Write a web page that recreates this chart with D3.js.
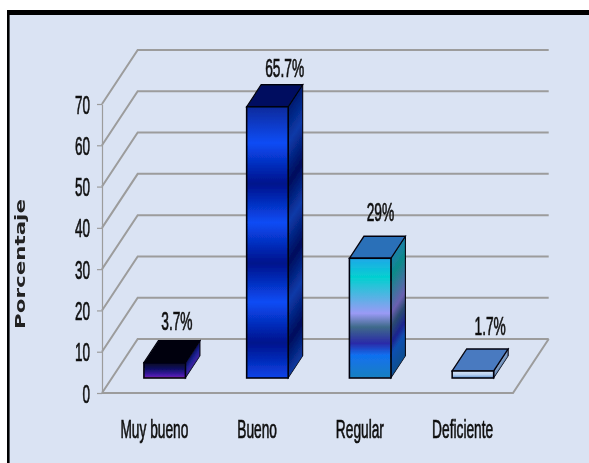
<!DOCTYPE html>
<html lang="es">
<head>
  <meta charset="UTF-8">
  <title>Porcentaje</title>
  <script src="https://d3js.org/d3.v7.min.js"></script>
  <style>
    html, body { margin: 0; padding: 0; background: #fff; }
    svg { display: block; }
  </style>
</head>

<body>
  <div id="chart"></div>
  <script>
    const categories = ["Muy bueno", "Bueno", "Regular", "Deficiente"];
    const values = [3.7, 65.7, 29, 1.7];
    const valueLabels = ["3.7%", "65.7%", "29%", "1.7%"];
    const yTicks = [0, 10, 20, 30, 40, 50, 60, 70];
    const yTitle = "Porcentaje";

    // gradient stops per bar: [offset, front colour, side colour]
    const barStops = [
      [[0, "#08081e", "#0a0a50"], [0.45, "#12106a", "#1a2090"], [0.85, "#4a1cb0", "#3c20a0"], [1, "#8a1a9c", "#202a90"]],
      [[0, "#0a2a9c", "#001a70"], [0.133, "#0a4cf5", "#0a3aa8"], [0.284, "#00128c", "#000c5c"], [0.427, "#0a4cf5", "#0a3aa8"],
       [0.577, "#00128c", "#000c5c"], [0.72, "#0a4cf5", "#0a3aa8"], [0.87, "#00128c", "#000c5c"], [1, "#0a44e8", "#0a3aa0"]],
      [[0, "#1fa8e8", "#1a7fa8"], [0.16, "#04d0d0", "#0d8a8a"], [0.46, "#9a9af5", "#6a60b0"], [0.575, "#3f6a8a", "#2a4a70"],
       [0.71, "#2a2aa8", "#1c2490"], [0.81, "#1070f0", "#0f50b0"], [1, "#1a80c0", "#0f4f90"]],
      [[0, "#d8e6f8", "#8aa4c8"], [0.55, "#b8d0f0", "#7a98c0"], [1, "#5a90d0", "#5a80b0"]]
    ];
    const topColors = ["#04040e", "#000c60", "#2b70b8", "#4a7ac0"];

    const width = 589, height = 463;
    const plot = { left: 102, right: 513, top: 104, bottom: 393 };
    const wall = { dx: 35.7, dy: -54 };   // floor depth
    const bar = { inX: 11.3, inY: -15, dx: 14.5, dy: -22, w: 41.5 };
    const labelNudge = [[5, 11], [10, 8], [3, 15], [10, 14]];

    const svg = d3.select("#chart").append("svg")
      .attr("width", width)
      .attr("height", height)
      .style("font-family", "'Liberation Sans', sans-serif");

    const defs = svg.append("defs");
    defs.append("filter").attr("id", "soft")
      .append("feGaussianBlur").attr("stdDeviation", 0.4);

    barStops.forEach((stops, i) => {
      ["front", "side"].forEach((face, f) => {
        const g = defs.append("linearGradient")
          .attr("id", `${face}${i}`)
          .attr("x1", 0).attr("y1", 0).attr("x2", 0).attr("y2", 1);
        stops.forEach(s => {
          g.append("stop").attr("offset", s[0]).attr("stop-color", s[f + 1]);
        });
      });
    });

    const root = svg.append("g").attr("filter", "url(#soft)");

    // page background and the heavy black frame
    root.append("rect").attr("x", 8).attr("y", 12).attr("width", width).attr("height", height)
      .attr("fill", "#dae3f3");
    root.append("rect").attr("x", 7).attr("y", 10).attr("width", width).attr("height", 5).attr("fill", "#000");
    root.append("rect").attr("x", 7).attr("y", 10).attr("width", 2.6).attr("height", height).attr("fill", "#000");

    const xScale = d3.scaleBand().domain(categories).range([plot.left, plot.right]);
    const yScale = d3.scaleLinear().domain([0, 70]).range([plot.bottom, plot.top]);

    // walls: diagonal + back gridline for every tick
    const backRight = plot.right + wall.dx;
    root.selectAll(".grid").data(yTicks).enter().append("path")
      .attr("class", "grid")
      .attr("fill", "none")
      .attr("stroke", "#9c9c9c")
      .attr("stroke-width", 2)
      .attr("d", d => {
        const y = yScale(d);
        return `M${plot.left},${y}L${plot.left + wall.dx},${y + wall.dy}L${backRight},${y + wall.dy}`;
      });

    // floor right edge and front edge
    root.append("path")
      .attr("fill", "none")
      .attr("stroke", "#9c9c9c")
      .attr("stroke-width", 2)
      .attr("d", `M${plot.left},${plot.bottom}L${plot.right},${plot.bottom}L${backRight},${plot.bottom + wall.dy}`);

    // axes
    const yAxis = root.append("g")
      .attr("transform", `translate(${plot.left},0)`)
      .call(d3.axisLeft(yScale).tickValues(yTicks).tickSize(5).tickSizeOuter(0));
    yAxis.selectAll("line, path").attr("stroke", "#9c9c9c").attr("stroke-width", 1.2);
    yAxis.selectAll("text")
      .attr("x", 0).attr("dy", null)
      .attr("transform", "translate(-12,9) scale(0.52,1)")
      .attr("font-size", 26)
      .attr("fill", "#111")
      .attr("stroke", "#111")
      .attr("stroke-width", 0.7);

    const xAxis = root.append("g")
      .attr("transform", `translate(1,${plot.bottom})`)
      .call(d3.axisBottom(xScale).tickSize(0));
    xAxis.select("path").remove();
    xAxis.selectAll("text")
      .attr("y", 0).attr("dy", null)
      .attr("transform", "translate(0,45) scale(0.55,1)")
      .attr("font-size", 25)
      .attr("fill", "#111")
      .attr("stroke", "#111")
      .attr("stroke-width", 0.7);

    // y title
    root.append("text")
      .attr("transform", `translate(25,264) rotate(-90)`)
      .attr("text-anchor", "middle")
      .attr("textLength", 130)
      .attr("lengthAdjust", "spacingAndGlyphs")
      .attr("font-family", "'DejaVu Sans', sans-serif")
      .attr("font-weight", "bold")
      .attr("font-size", 14)
      .attr("fill", "#222")
      .text(yTitle);

    // bars
    const bars = root.selectAll(".bar").data(values).enter().append("g").attr("class", "bar");
    const unit = plot.bottom - yScale(1);
    const barX = (d, i) => xScale(categories[i]) + (xScale.bandwidth() - bar.w) / 2 + bar.inX;
    const baseY = plot.bottom + bar.inY;

    bars.append("rect")   // side face, sheared so the stripes run with the depth
      .attr("x", 0).attr("y", 0)
      .attr("width", bar.dx)
      .attr("height", d => d * unit)
      .attr("transform", (d, i) => {
        const x = barX(d, i) + bar.w;
        return `matrix(1,${bar.dy / bar.dx},0,1,${x},${baseY - d * unit})`;
      })
      .attr("fill", (d, i) => `url(#side${i})`)
      .attr("stroke", "#050510")
      .attr("stroke-width", 1.1);

    bars.append("path")   // top face
      .attr("d", (d, i) => {
        const x = barX(d, i), y = baseY - d * unit;
        return `M${x},${y}l${bar.dx},${bar.dy}h${bar.w}l${-bar.dx},${-bar.dy}Z`;
      })
      .attr("fill", (d, i) => topColors[i])
      .attr("stroke", "#050510")
      .attr("stroke-width", 1.3);

    bars.append("rect")   // front face
      .attr("x", barX)
      .attr("y", d => baseY - d * unit)
      .attr("width", bar.w)
      .attr("height", d => d * unit)
      .attr("fill", (d, i) => `url(#front${i})`)
      .attr("stroke", "#050510")
      .attr("stroke-width", 1.6);

    // value labels
    root.selectAll(".val").data(values).enter().append("text")
      .attr("class", "val")
      .attr("transform", (d, i) => {
        const x = barX(d, i) + (bar.w + bar.dx) / 2 + labelNudge[i][0];
        const y = baseY - d * unit + bar.dy - labelNudge[i][1];
        return `translate(${x},${y}) scale(0.55,1)`;
      })
      .attr("text-anchor", "middle")
      .attr("font-size", 25)
      .attr("fill", "#111")
      .attr("stroke", "#111")
      .attr("stroke-width", 0.7)
      .text((d, i) => valueLabels[i]);
  </script>
</body>
</html>
